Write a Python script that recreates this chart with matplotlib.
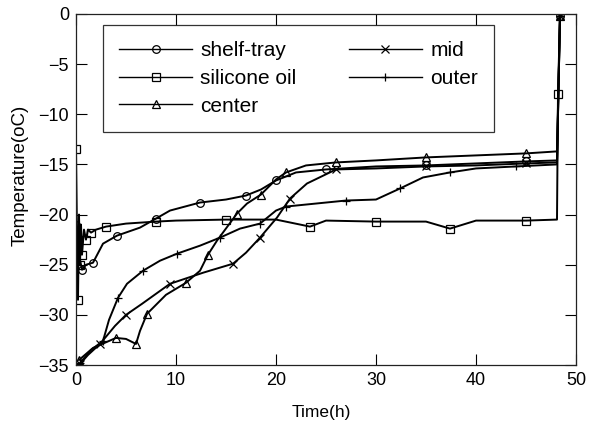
import matplotlib
matplotlib.use("Agg")
import matplotlib.pyplot as plt

plt.rcParams['font.family'] = ['Liberation Sans', 'DejaVu Sans']

# ---- data (time in h, temperature in oC) ----
shelf_t = [0.0, 0.3, 0.6, 1.0, 1.7, 2.7, 4.1, 6.4, 8.0, 9.4, 12.4, 15.0, 17.0, 18.5, 20.0, 22.0, 25.0,
           30.0, 35.0, 40.0, 45.0, 48.1, 48.4]
shelf_T = [-21.0, -24.0, -25.5, -25.0, -24.8, -22.9, -22.1, -21.3, -20.4, -19.6, -18.8, -18.5, -18.1, -17.5,
           -16.6, -15.8, -15.5, -15.2, -15.1, -14.9, -14.7, -14.6, -0.2]

oil_t = [0.0, 0.1, 0.2, 0.3, 0.4, 0.5, 0.6, 0.8, 1.0, 1.2, 1.5, 2.0, 3.0, 5.0, 8.0, 10.0, 15.0, 20.0,
         23.4, 25.0, 30.0, 35.0, 37.4, 40.0, 45.0, 48.1, 48.2, 48.4]
oil_T = [-13.5, -22.0, -28.5, -20.0, -25.0, -21.0, -24.0, -21.5, -22.5, -21.5, -21.8, -21.5, -21.2, -20.9,
         -20.7, -20.6, -20.5, -20.5, -21.2, -20.6, -20.7, -20.7, -21.4, -20.6, -20.6, -20.5, -8.0, -0.2]

center_t = [0.3, 1.7, 4.0, 5.0, 6.0, 6.4, 7.1, 9.0, 11.0, 12.4, 13.2, 14.1, 16.1, 17.1, 18.5, 20.0, 21.0,
            23.0, 26.0, 30.0, 35.0, 40.0, 45.0, 48.1, 48.4]
center_T = [-34.5, -33.3, -32.3, -32.4, -32.9, -31.6, -29.9, -28.0, -26.8, -25.6, -24.0, -22.6, -19.9, -18.9,
            -18.0, -16.5, -15.8, -15.1, -14.8, -14.6, -14.3, -14.1, -13.9, -13.7, -0.2]

mid_t = [0.4, 1.2, 2.4, 3.9, 5.0, 6.6, 9.4, 12.7, 15.7, 17.0, 18.4, 20.1, 21.4, 23.1, 26.0, 30.0, 35.0,
         40.0, 45.0, 48.1, 48.4]
mid_T = [-34.9, -34.0, -32.9, -31.1, -30.0, -28.9, -26.9, -25.8, -24.9, -23.8, -22.3, -20.3, -18.4, -16.9,
         -15.5, -15.4, -15.2, -15.1, -14.9, -14.8, -0.2]

outer_t = [0.4, 1.5, 2.7, 3.3, 4.2, 5.1, 6.7, 8.4, 10.1, 12.4, 14.4, 16.4, 18.4, 20.0, 21.0, 24.0, 27.0,
           30.0, 32.4, 34.7, 37.4, 40.0, 44.0, 48.1, 48.4]
outer_T = [-34.8, -33.5, -32.6, -30.5, -28.3, -26.9, -25.6, -24.6, -23.9, -23.1, -22.3, -21.4, -20.9, -19.6,
           -19.2, -18.9, -18.6, -18.5, -17.4, -16.3, -15.8, -15.4, -15.2, -15.0, -0.2]

labels = ['shelf-tray', 'silicone oil', 'center', 'mid', 'outer']
markers = ['o', 's', '^', 'x', '+']
xticks = [0, 10, 20, 30, 40, 50]
yticks = [-35, -30, -25, -20, -15, -10, -5, 0]

fig = plt.figure(figsize=(5.9, 4.23), dpi=100)
ax = fig.add_axes([76 / 590, 1 - 365 / 423, 500 / 590, 351 / 423])

series = [(shelf_t, shelf_T), (oil_t, oil_T), (center_t, center_T), (mid_t, mid_T), (outer_t, outer_T)]
for (t, T), lab, mk in zip(series, labels, markers):
    ax.plot(t, T, color='black', lw=1.4, marker=mk, ms=5.5, mfc='none', mec='black', mew=0.9,
            markevery=2, label=lab)

ax.set_xlim(0, 50)
ax.set_ylim(-35, 0)
ax.set_xticks(xticks)
ax.set_yticks(yticks)
ax.tick_params(direction='in', length=8, width=0.8, top=True, right=True, labelsize=13, pad=5)
for s in ax.spines.values():
    s.set_linewidth(0.9)
    s.set_color('#222222')
ax.set_xlabel('Time(h)', fontsize=12.5)
ax.set_ylabel('Temperature(oC)', fontsize=13.5)
ax.xaxis.set_label_coords(0.49, -0.115)
ax.yaxis.set_label_coords(-0.094, 0.54)

leg = ax.legend(ncol=2, loc='upper left', bbox_to_anchor=(0.054, 0.969),
                frameon=True, fancybox=False, edgecolor='black', fontsize=15, handlelength=3.5,
                handletextpad=0.4, columnspacing=2.5, labelspacing=0.42, borderpad=0.78,
                borderaxespad=0)
leg.get_frame().set_linewidth(0.9)
for h in leg.legend_handles:
    h.set_linewidth(1.0)

fig.savefig('out.png', dpi=100)
